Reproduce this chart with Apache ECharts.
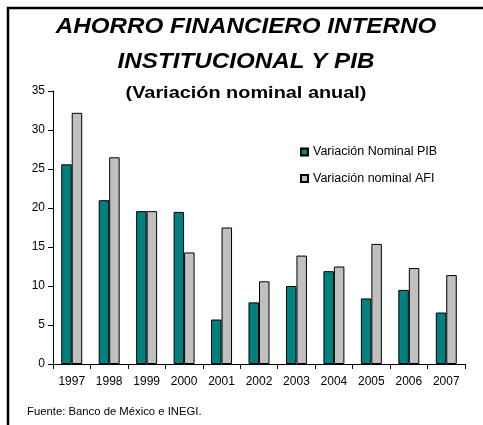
<!DOCTYPE html>
<html>
<head>
<meta charset="utf-8">
<script src="https://cdn.jsdelivr.net/npm/echarts@6/dist/echarts.min.js"></script>
<style>
  html, body { margin: 0; padding: 0; background: #fff; }
  #chart { width: 483px; height: 425px; }
</style>
</head>
<body>
<div id="chart"></div>
<script>
var years = ['1997', '1998', '1999', '2000', '2001', '2002', '2003', '2004', '2005', '2006', '2007']
var pib = [25.6, 21.0, 19.6, 19.5, 5.7, 7.9, 10.0, 11.9, 8.4, 9.5, 6.6]
var afi = [32.2, 26.5, 19.6, 14.3, 17.5, 10.6, 13.9, 12.5, 15.4, 12.3, 11.4]

var font = 'Arial, "Liberation Sans", sans-serif'
var chart = echarts.init(document.getElementById('chart'))

chart.setOption({
  animation: false,
  backgroundColor: '#fff',
  textStyle: { fontFamily: font, color: '#000' },
  graphic: [
    {
      type: 'rect',
      shape: { x: 8, y: 8, width: 600, height: 600 },
      style: { fill: 'none', stroke: '#000', lineWidth: 2.5 },
      silent: true
    },
    {
      type: 'text', x: 246, y: 27, scaleX: 1.1,
      style: {
        text: 'AHORRO FINANCIERO INTERNO', fill: '#000',
        font: 'italic bold 22px ' + font, textAlign: 'center', textVerticalAlign: 'middle'
      }
    },
    {
      type: 'text', x: 246, y: 62, scaleX: 1.1,
      style: {
        text: 'INSTITUCIONAL Y PIB', fill: '#000',
        font: 'italic bold 22px ' + font, textAlign: 'center', textVerticalAlign: 'middle'
      }
    },
    {
      type: 'text', x: 246, y: 93, scaleX: 1.17,
      style: {
        text: '(Variación nominal anual)', fill: '#000',
        font: 'bold 17px ' + font, textAlign: 'center', textVerticalAlign: 'middle'
      }
    },
    {
      type: 'text', x: 27, y: 412, scaleX: 1.13,
      style: {
        text: 'Fuente: Banco de México e INEGI.', fill: '#000',
        font: '10px ' + font, textAlign: 'left', textVerticalAlign: 'middle'
      }
    }
  ],
  legend: {
    orient: 'vertical',
    left: 295,
    top: 140,
    itemWidth: 7,
    itemHeight: 7,
    itemGap: 12.5,
    icon: 'rect',
    textStyle: { fontSize: 12.5, lineHeight: 14, color: '#000', fontFamily: font },
    data: ['Variación Nominal PIB', 'Variación nominal AFI']
  },
  grid: { left: 53, right: 18, top: 91, bottom: 61, containLabel: false },
  xAxis: {
    type: 'category',
    data: years,
    axisLine: { lineStyle: { color: '#000', width: 1 } },
    axisTick: { show: true, length: 5, lineStyle: { color: '#000' } },
    axisLabel: { color: '#000', fontSize: 12, margin: 12, fontFamily: font }
  },
  yAxis: {
    type: 'value',
    min: 0,
    max: 35,
    interval: 5,
    splitLine: { show: false },
    axisLine: { show: true, lineStyle: { color: '#000', width: 1 } },
    axisTick: { show: true, length: 5, lineStyle: { color: '#000' } },
    axisLabel: { color: '#000', fontSize: 12, margin: 8, fontFamily: font }
  },
  series: [
    {
      name: 'Variación Nominal PIB',
      type: 'bar',
      data: pib,
      barGap: '0%',
      barCategoryGap: '44%',
      itemStyle: { color: '#008080', borderColor: '#000', borderWidth: 1 }
    },
    {
      name: 'Variación nominal AFI',
      type: 'bar',
      data: afi,
      itemStyle: { color: '#C0C0C0', borderColor: '#000', borderWidth: 1 }
    }
  ]
})
</script>
</body>
</html>
